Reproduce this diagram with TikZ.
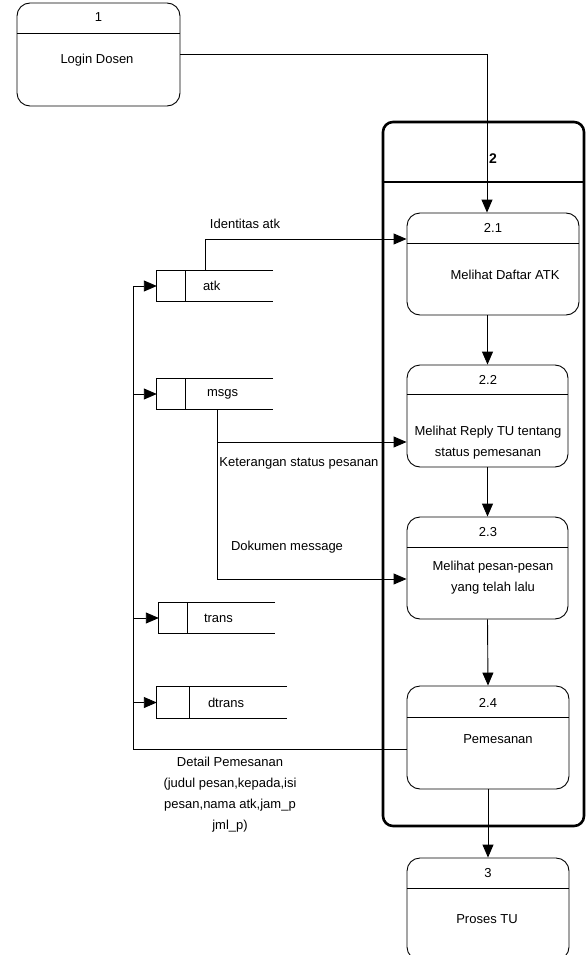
\documentclass[tikz,border=0pt]{standalone}
\usepackage{fontspec}
\setmainfont{Liberation Sans}
\usetikzlibrary{arrows.meta,positioning,calc}

\tikzset{
  lbl/.style={font=\fontsize{13pt}{21pt}\selectfont,align=center,inner sep=0pt},
  proc/.style={draw,rounded corners=13pt,line width=0.9pt},
  link/.style={line width=0.9pt},
  flow/.style={line width=0.9pt,-{Triangle[length=13pt,width=11pt]}},
  storeline/.style={line width=1.1pt}
}

\begin{document}
\begin{tikzpicture}[x=1pt,y=-1pt,every node/.style={lbl}]
        \useasboundingbox (0,0) rectangle (586,955);
        % proses 2 (frame)
        \node[draw,line width=2.6pt,rounded corners=10pt,minimum width=201pt,minimum height=704pt] (frame) at (483.5,474) {};
        \draw[line width=2.6pt] (frame.west |- 0,182) -- (frame.east |- 0,182);
        \node[font=\fontsize{14pt}{16pt}\selectfont\bfseries] (frameno) at (493,159) {2};
        % proses
        \node[proc,minimum width=163pt,minimum height=103pt] (p1) at (98.5,54.5) {};
        \draw[link] (p1.west |- 0,33) -- (p1.east |- 0,33);
        \node (p1no) at (98.5,17) {1};
        \node (p1txt) at (97,60) {Login Dosen};
        \node[proc,minimum width=172pt,minimum height=102pt] (p21) at (493,264) {};
        \draw[link] (p21.west |- 0,243) -- (p21.east |- 0,243);
        \node (p21no) at (493,228) {2.1};
        \node (p21txt) at (505,275) {Melihat Daftar ATK};
        \node[proc,minimum width=161pt,minimum height=102pt] (p22) at (487.5,416) {};
        \draw[link] (p22.west |- 0,394) -- (p22.east |- 0,394);
        \node (p22no) at (488,380) {2.2};
        \node (p22txt) at (488,443) {Melihat Reply TU tentang\\status pemesanan};
        \node[proc,minimum width=161pt,minimum height=102pt] (p23) at (487.5,568) {};
        \draw[link] (p23.west |- 0,547) -- (p23.east |- 0,547);
        \node (p23no) at (488,532) {2.3};
        \node (p23txt) at (493,578) {Melihat pesan-pesan\\yang telah lalu};
        \node[proc,minimum width=162pt,minimum height=103pt] (p24) at (488,737.5) {};
        \draw[link] (p24.west |- 0,717) -- (p24.east |- 0,717);
        \node (p24no) at (488,703) {2.4};
        \node (p24txt) at (498,739) {Pemesanan};
        \node[proc,minimum width=162pt,minimum height=102pt] (p3) at (488,909) {};
        \draw[link] (p3.west |- 0,888) -- (p3.east |- 0,888);
        \node (p3no) at (488,873) {3};
        \node (p3txt) at (487,919) {Proses TU};
        % data store
        \foreach \nm/\cx/\cy/\w/\h/\d/\gap in {atk/215/286/116/30/29/17, msgs/215/394/116/30/29/21,
            trans/217/618/116/30/29/16, dtrans/222/702.5/130/31/33/18} {
          \node[minimum width=\w pt,minimum height=\h pt] (\nm) at (\cx,\cy) {};
          \draw[storeline] (\nm.north east) -- (\nm.north west) -- (\nm.south west) -- (\nm.south east);
          \draw[storeline] ([xshift=\d pt]\nm.north west) -- ([xshift=\d pt]\nm.south west);
          \node[anchor=west] (\nm-txt) at ([xshift=\d pt+\gap pt]\nm.west) {\nm};
        }
        % alur
        \draw[flow] (p1.east) -| ([xshift=-6pt]p21.north);
        \draw[flow] (p22.north |- p21.south) -- (p22.north);
        \draw[flow] (p22.south) -- (p23.north);
        \draw[flow] (p23.south) -- (p24.north);
        \draw[flow] (p24.south) -- (p3.north);
        \draw[flow] ([xshift=-10pt]atk.north) |- ([yshift=25pt]p21.west);
        \node (idatk) at (245,224) {Identitas atk};
        \draw[flow] ([xshift=2pt]msgs.south) |- ([yshift=-26pt]p22.west);
        \draw[flow] ([xshift=2pt]msgs.south) |- ([yshift=-11pt]p23.west);
        \node (ketlbl) at (299,463) {Keterangan status pesanan};
        \node (doklbl) at (287,547) {Dokumen message};
        \coordinate (bus) at ([xshift=-23pt]atk.west);
        \draw[flow] ([yshift=-11.5pt]p24.west) -| (bus) -- (atk.west);
        \foreach \nm in {msgs,trans,dtrans} \draw[flow] (bus |- \nm.west) -- (\nm.west);
        \node (detlbl) at (230,795) {Detail Pemesanan\\(judul pesan,kepada,isi\\pesan,nama atk,jam\_p\\jml\_p)};
      \end{tikzpicture}
\end{document}
